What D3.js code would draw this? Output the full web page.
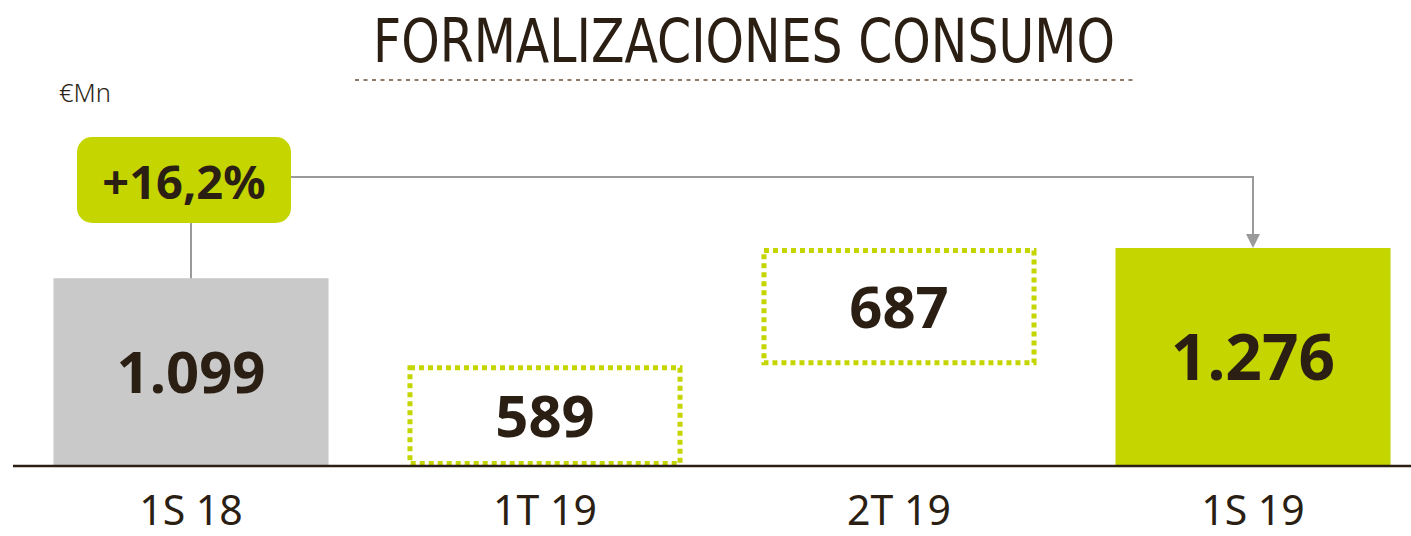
<!DOCTYPE html>
<html>
<head>
<meta charset="utf-8">
<script src="https://cdn.jsdelivr.net/npm/d3@7"></script>
<style>
  html, body { margin: 0; padding: 0; background: #fff; }
  svg { display: block; }
</style>
</head>
<body>
<div class="chart"></div>
<script>
// Paramètres
const width = 1411;
const height = 536;
const baseline = 466;

// Données
const categories = ['1S 18', '1T 19', '2T 19', '1S 19'];
const values = [1099, 589, 687, 1276];
const valueLabels = ['1.099', '589', '687', '1.276'];
const kinds = ['total', 'step', 'step', 'total'];
const titleText = 'FORMALIZACIONES CONSUMO';
const unitText = '€Mn';
const growthLabel = '+16,2%';

const green = '#c5d500';
const grey = '#c9c9c9';
const ink = '#2b1f14';
const connector = '#9a9a9a';

// Cascade : base de chaque barre
let running = 0;
const bars = categories.map((c, i) => {
  let base = 0;
  if (kinds[i] === 'step') {
    base = running;
    running += values[i];
  }
  return { cat: c, value: values[i], label: valueLabels[i], kind: kinds[i], base: base, end: base + values[i] };
});

const svg = d3.select('.chart')
  .append('svg')
  .attr('width', width)
  .attr('height', height);

const x = d3.scaleBand()
  .domain(categories)
  .range([14, 1430])
  .paddingInner(0.223)
  .paddingOuter(0.1115);

const y = d3.scaleLinear()
  .domain([0, d3.max(bars, d => d.end)])
  .range([baseline, 248]);

// Titre
svg.append('text')
  .attr('x', 744)
  .attr('y', 62)
  .attr('text-anchor', 'middle')
  .attr('textLength', 742)
  .attr('lengthAdjust', 'spacingAndGlyphs')
  .style('font', '60px "DejaVu Sans Condensed", "DejaVu Sans", sans-serif')
  .style('font-stretch', 'condensed')
  .style('fill', ink)
  .text(titleText);

svg.append('line')
  .attr('x1', 355).attr('x2', 1135)
  .attr('y1', 80).attr('y2', 80)
  .attr('stroke', '#8b7a6a')
  .attr('stroke-width', 2)
  .attr('stroke-dasharray', '4,4.5');

svg.append('text')
  .attr('x', 59)
  .attr('y', 102)
  .style('font', '300 25px "Noto Sans", sans-serif')
  .style('fill', ink)
  .attr('textLength', 52)
  .attr('lengthAdjust', 'spacingAndGlyphs')
  .text(unitText);

// Barres pleines
svg.append('g')
  .selectAll('rect')
  .data(bars.filter(d => d.kind === 'total'))
  .join('rect')
    .attr('x', d => x(d.cat))
    .attr('width', x.bandwidth())
    .attr('y', d => y(d.end))
    .attr('height', d => y(d.base) - y(d.end))
    .attr('fill', d => d.cat === categories[0] ? grey : green);

// Barres intermédiaires en pointillés
const sw = 5;
svg.append('g')
  .selectAll('rect')
  .data(bars.filter(d => d.kind === 'step'))
  .join('rect')
    .attr('x', d => x(d.cat) + sw / 2)
    .attr('width', x.bandwidth() - sw)
    .attr('y', d => y(d.end) + sw / 2)
    .attr('height', d => y(d.base) - y(d.end) - sw)
    .attr('fill', 'none')
    .attr('stroke', green)
    .attr('stroke-width', sw)
    .attr('stroke-dasharray', '5,4');

// Axe (ligne de base)
svg.append('line')
  .attr('x1', 13).attr('x2', width)
  .attr('y1', baseline).attr('y2', baseline)
  .attr('stroke', ink)
  .attr('stroke-width', 2.5);

// Valeurs
svg.append('g')
  .selectAll('text')
  .data(bars)
  .join('text')
    .attr('x', d => x(d.cat) + x.bandwidth() / 2)
    .attr('y', d => (y(d.base) + y(d.end)) / 2)
    .attr('dy', '0.36em')
    .attr('text-anchor', 'middle')
    .style('font-family', '"Noto Sans", sans-serif')
    .style('font-weight', 700)
    .style('font-size', d => d.cat === '1S 19' ? '64px' : '58px')
    .style('fill', ink)
    .text(d => d.label);

// Catégories
svg.append('g')
  .selectAll('text')
  .data(categories)
  .join('text')
    .attr('x', d => x(d) + x.bandwidth() / 2)
    .attr('y', 525)
    .attr('text-anchor', 'middle')
    .style('font', '41px "Noto Sans", sans-serif')
    .style('fill', ink)
    .text(d => d);

// Connecteur de croissance
const first = bars[0];
const last = bars[bars.length - 1];
const cx0 = x(first.cat) + x.bandwidth() / 2;
const cx1 = x(last.cat) + x.bandwidth() / 2;
const lineY = 177;

svg.append('line')
  .attr('x1', cx0).attr('x2', cx0)
  .attr('y1', 223).attr('y2', y(first.end))
  .attr('stroke', connector).attr('stroke-width', 2);

svg.append('path')
  .attr('d', `M291,${lineY}H${cx1}V${y(last.end) - 12}`)
  .attr('fill', 'none')
  .attr('stroke', connector).attr('stroke-width', 2);

svg.append('path')
  .attr('d', `M${cx1 - 7},${y(last.end) - 14}L${cx1 + 7},${y(last.end) - 14}L${cx1},${y(last.end)}Z`)
  .attr('fill', connector);

svg.append('rect')
  .attr('x', 77).attr('y', 137)
  .attr('width', 214).attr('height', 86)
  .attr('rx', 15)
  .attr('fill', green);

svg.append('text')
  .attr('x', 184)
  .attr('y', 182)
  .attr('dy', '0.36em')
  .attr('text-anchor', 'middle')
  .style('font', '700 47px "Noto Sans", sans-serif')
  .style('fill', ink)
  .text(growthLabel);
</script>
</body>
</html>
